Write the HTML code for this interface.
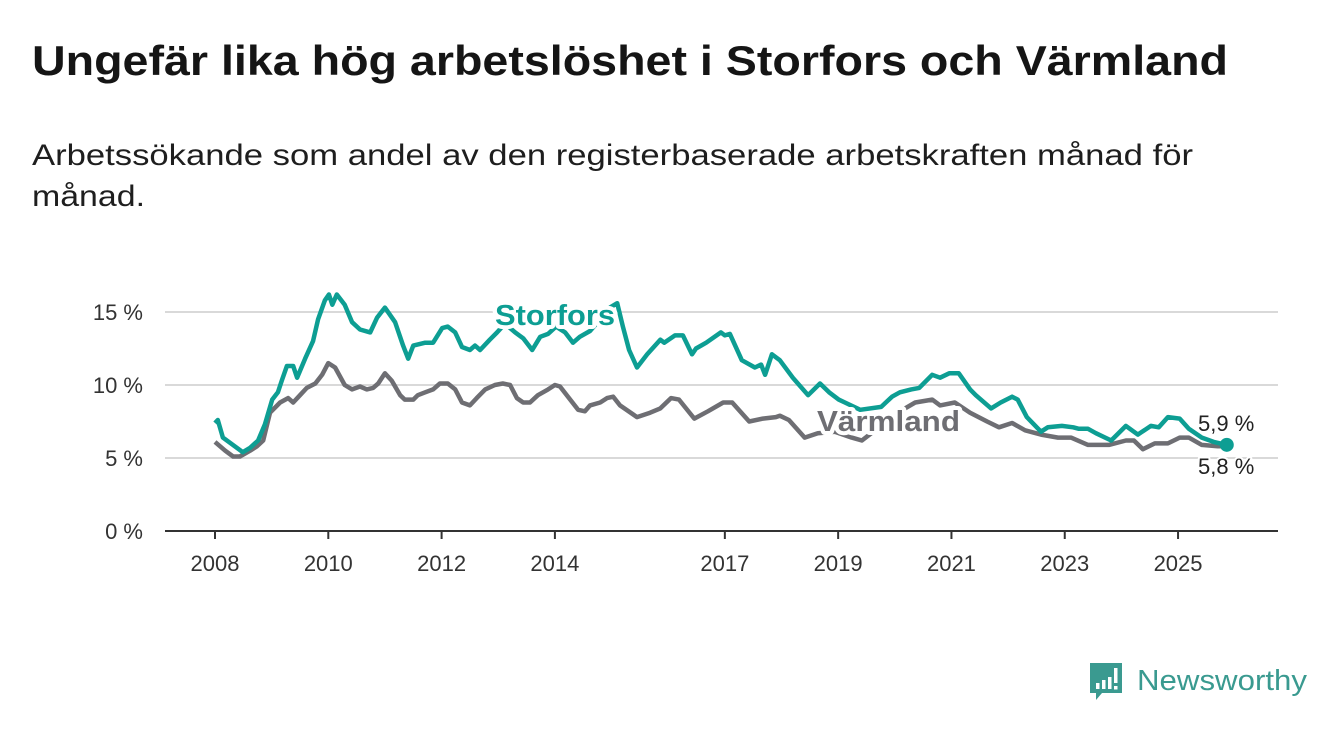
<!DOCTYPE html>
<html><head><meta charset="utf-8"><style>
html,body{margin:0;padding:0;background:#fff;}
svg{display:block;font-family:"Liberation Sans",sans-serif;}
</style></head><body>
<svg id="chart" width="1340" height="734" viewBox="0 0 1340 734">
<text x="32" y="75" font-size="42" font-weight="bold" fill="#151515" textLength="1196" lengthAdjust="spacingAndGlyphs">Ungefär lika hög arbetslöshet i Storfors och Värmland</text>
<text x="32" y="165" font-size="30" fill="#1e1e1e" textLength="1161" lengthAdjust="spacingAndGlyphs">Arbetssökande som andel av den registerbaserade arbetskraften månad för</text>
<text x="32" y="206" font-size="30" fill="#1e1e1e" textLength="113" lengthAdjust="spacingAndGlyphs">månad.</text>
<g id="grid"></g><g id="xaxis"></g><g id="series"></g><g id="labels"></g>
<g>
<path d="M1090 663 h32 v30 h-20 l-6 7 v-7 h-6 z" fill="#3a9a90"/>
<rect x="1096" y="683" width="3.5" height="6" fill="#fff"/><rect x="1102" y="680" width="3.5" height="9" fill="#fff"/><rect x="1108" y="677" width="3.5" height="12" fill="#fff"/><rect x="1114" y="668" width="3.5" height="15" fill="#fff"/><rect x="1114" y="686" width="3.5" height="3.5" fill="#fff"/>
<text x="1137" y="690" font-size="29" fill="#3a9a90" textLength="170" lengthAdjust="spacingAndGlyphs">Newsworthy</text>
</g>
</svg>
<script>
const yTicks=[0,5,10,15];
const yTickLabels=["0 %","5 %","10 %","15 %"];
const xTicks=[2008,2010,2012,2014,2017,2019,2021,2023,2025];
const storforsDates=[2008.0,2008.05,2008.14,2008.35,2008.49,2008.62,2008.76,2008.88,2009.01,2009.11,2009.18,2009.27,2009.38,2009.45,2009.59,2009.73,2009.82,2009.94,2010.01,2010.07,2010.15,2010.29,2010.42,2010.56,2010.74,2010.86,2011.0,2011.18,2011.32,2011.41,2011.5,2011.71,2011.85,2012.01,2012.11,2012.24,2012.36,2012.5,2012.59,2012.68,2012.85,2012.98,2013.12,2013.3,2013.44,2013.6,2013.74,2013.88,2014.02,2014.18,2014.32,2014.44,2014.62,2014.8,2014.97,2015.1,2015.2,2015.31,2015.45,2015.63,2015.86,2015.93,2016.12,2016.26,2016.42,2016.49,2016.67,2016.93,2017.0,2017.09,2017.3,2017.53,2017.64,2017.71,2017.83,2017.97,2018.2,2018.47,2018.68,2018.84,2019.01,2019.12,2019.39,2019.76,2019.95,2020.09,2020.29,2020.43,2020.66,2020.8,2020.96,2021.13,2021.33,2021.43,2021.7,2021.87,2022.07,2022.17,2022.33,2022.58,2022.7,2022.95,2023.15,2023.25,2023.41,2023.55,2023.82,2024.08,2024.29,2024.52,2024.66,2024.82,2025.03,2025.19,2025.42,2025.63,2025.86];
const storforsValues=[7.4,7.6,6.4,5.8,5.4,5.7,6.2,7.3,9.0,9.5,10.3,11.3,11.3,10.5,11.8,13.0,14.5,15.8,16.2,15.5,16.2,15.5,14.3,13.8,13.6,14.6,15.3,14.3,12.7,11.8,12.7,12.9,12.9,13.9,14.0,13.6,12.6,12.4,12.7,12.4,13.1,13.6,14.2,13.6,13.2,12.4,13.3,13.5,14.0,13.6,12.9,13.3,13.7,14.5,15.3,15.6,14.0,12.4,11.2,12.1,13.1,12.9,13.4,13.4,12.1,12.5,12.9,13.6,13.4,13.5,11.7,11.2,11.4,10.7,12.1,11.7,10.5,9.3,10.1,9.5,9.0,8.8,8.3,8.5,9.2,9.5,9.7,9.8,10.7,10.5,10.8,10.8,9.7,9.3,8.4,8.8,9.2,9.0,7.8,6.8,7.1,7.2,7.1,7.0,7.0,6.7,6.2,7.2,6.6,7.2,7.1,7.8,7.7,7.0,6.4,6.1,5.9];
const varmlandDates=[2008.0,2008.18,2008.32,2008.44,2008.62,2008.74,2008.85,2008.97,2009.15,2009.29,2009.38,2009.5,2009.62,2009.77,2009.89,2010.0,2010.12,2010.29,2010.42,2010.56,2010.68,2010.79,2010.88,2011.0,2011.12,2011.27,2011.35,2011.5,2011.58,2011.71,2011.85,2011.97,2012.11,2012.24,2012.36,2012.5,2012.62,2012.77,2012.94,2013.08,2013.21,2013.33,2013.44,2013.56,2013.7,2013.88,2014.0,2014.09,2014.21,2014.41,2014.53,2014.62,2014.8,2014.92,2015.03,2015.15,2015.45,2015.68,2015.86,2016.05,2016.19,2016.46,2016.7,2016.97,2017.13,2017.43,2017.67,2017.9,2017.97,2018.13,2018.41,2018.64,2018.94,2019.24,2019.42,2019.62,2019.92,2020.18,2020.36,2020.66,2020.8,2021.06,2021.33,2021.63,2021.84,2022.07,2022.3,2022.58,2022.88,2023.11,2023.41,2023.78,2024.08,2024.22,2024.38,2024.59,2024.82,2025.03,2025.19,2025.42,2025.7,2025.86];
const varmlandValues=[6.1,5.5,5.1,5.1,5.5,5.8,6.2,8.1,8.8,9.1,8.8,9.3,9.8,10.1,10.7,11.5,11.2,10.0,9.7,9.9,9.7,9.8,10.1,10.8,10.3,9.3,9.0,9.0,9.3,9.5,9.7,10.1,10.1,9.7,8.8,8.6,9.1,9.7,10.0,10.1,10.0,9.1,8.8,8.8,9.3,9.7,10.0,9.9,9.3,8.3,8.2,8.6,8.8,9.1,9.2,8.6,7.8,8.1,8.4,9.1,9.0,7.7,8.2,8.8,8.8,7.5,7.7,7.8,7.9,7.6,6.4,6.7,6.8,6.4,6.2,6.8,7.6,8.4,8.8,9.0,8.6,8.8,8.1,7.5,7.1,7.4,6.9,6.6,6.4,6.4,5.9,5.9,6.2,6.2,5.6,6.0,6.0,6.4,6.4,5.9,5.8,5.8];
const lastLabels=["5,9 %","5,8 %"];

const NS="http://www.w3.org/2000/svg";
const X=yr=>215+(yr-2008)*56.65;
const Y=v=>531-v*14.6;
function mk(tag,attrs,parent){const e=document.createElementNS(NS,tag);for(const k in attrs)e.setAttribute(k,attrs[k]);parent.appendChild(e);return e;}
const grid=document.getElementById('grid'),xa=document.getElementById('xaxis'),ser=document.getElementById('series'),lab=document.getElementById('labels');
yTicks.forEach((t,i)=>{
  if(t>0){const l=mk('line',{x1:165,x2:1278,y1:Y(t),y2:Y(t),stroke:'#d9d9d9','stroke-width':2},grid);
  
  }
  const tx=mk('text',{x:143,y:Y(t)+8,'font-size':22,fill:'#333','text-anchor':'end'},grid);
  tx.textContent=yTickLabels[i];
  
  
});
const ax=mk('line',{x1:165,x2:1278,y1:531,y2:531,stroke:'#333','stroke-width':2},xa);


xTicks.forEach(t=>{
  mk('line',{x1:X(t),x2:X(t),y1:531,y2:539,stroke:'#333','stroke-width':2},xa);
  const tx=mk('text',{x:X(t),y:571,'font-size':22,fill:'#333','text-anchor':'middle'},xa);
  tx.textContent=t;
  
  
});
function line(dates,vals,color,name){
  const d=dates.map((t,i)=>(i?'L':'M')+X(t).toFixed(1)+' '+Y(vals[i]).toFixed(1)).join(' ');
  const p=mk('path',{d:d,fill:'none',stroke:color,'stroke-width':4.5,'stroke-linejoin':'round'},ser);
  
  
}
line(varmlandDates,varmlandValues,'#6e6e73','varmland-line');
line(storforsDates,storforsValues,'#0d9e93','storfors-line');
const ls=storforsValues[storforsValues.length-1],lt=storforsDates[storforsDates.length-1];
const dot=mk('circle',{cx:X(lt),cy:Y(ls),r:7,fill:'#0d9e93'},ser);


function label(x,y,txt,color,size,bold,name,len){
  const a={x:x,y:y,'font-size':size,'font-weight':bold?'bold':'normal',fill:color,stroke:'#fff','stroke-width':bold?8:4,'paint-order':'stroke','stroke-linejoin':'round'};
  if(len){a.textLength=len;a.lengthAdjust='spacingAndGlyphs';}
  const t=mk('text',a,lab);
  t.textContent=txt;
  
  
}
label(495,325,'Storfors','#0d9e93',29,true,'storfors-label',120);
label(817,431,'Värmland','#6e6e73',29,true,'varmland-label',143);
label(1198,431,lastLabels[0],'#222',22,false,'storfors-last-value');
label(1198,474,lastLabels[1],'#222',22,false,'varmland-last-value');
</script>
</body></html>
